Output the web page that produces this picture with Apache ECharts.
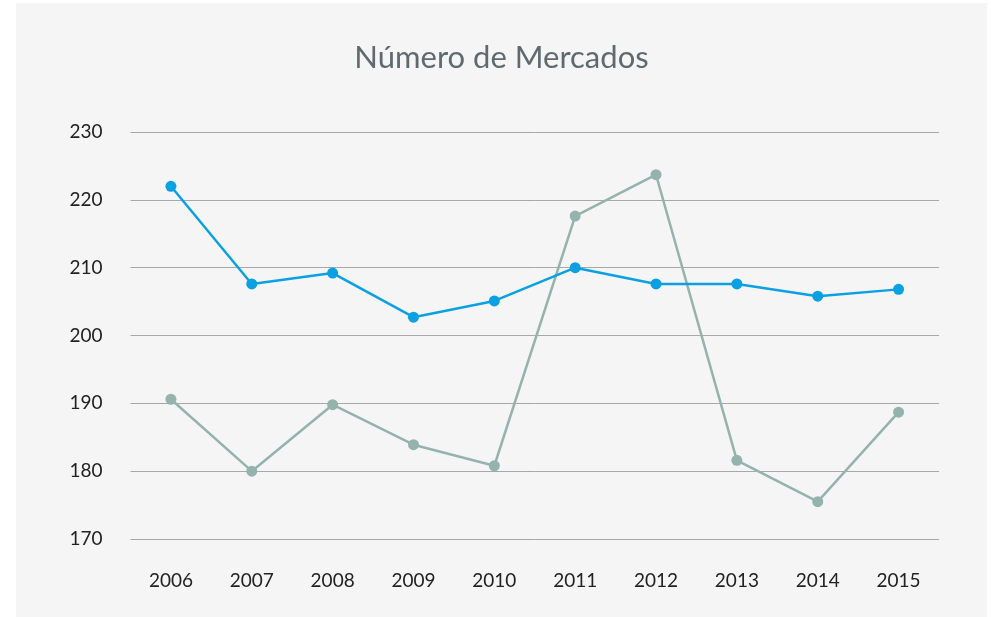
<!DOCTYPE html>
<html><head><meta charset="utf-8">
<script src="https://cdn.jsdelivr.net/npm/echarts@6/dist/echarts.min.js"></script>
<style>html,body{margin:0;padding:0;background:#fff;}#c{position:absolute;left:16px;top:3px;width:971px;height:614px;}</style>
</head><body><div id="c"></div>
<script>
const categories = ['2006','2007','2008','2009','2010','2011','2012','2013','2014','2015'];
const seriesBlue = [222, 207.6, 209.2, 202.7, 205.1, 210, 207.6, 207.6, 205.8, 206.8];
const seriesGray = [190.6, 180, 189.8, 183.9, 180.8, 217.6, 223.7, 181.6, 175.5, 188.7];
const yTicks = [170, 180, 190, 200, 210, 220, 230];
const chart = echarts.init(document.getElementById('c'));
const font = 'Lato, "Open Sans", sans-serif';
chart.setOption({
  backgroundColor: '#f5f5f5',
  animation: false,
  title: {text: 'Número de Mercados', left: 'center', top: 34,
    textStyle: {fontFamily: font, fontSize: 31, fontWeight: 'normal', color: '#5f6a70'}},
  grid: {left: 114.5, right: 48, top: 129, bottom: 78},
  xAxis: {type: 'category', data: categories, boundaryGap: true,
    axisLine: {show: false}, axisTick: {show: false},
    axisLabel: {margin: 32, fontFamily: font, fontSize: 19, color: '#222'}},
  yAxis: {type: 'value', min: yTicks[0], max: yTicks[yTicks.length - 1], interval: 10,
    axisLine: {show: false}, axisTick: {show: false},
    axisLabel: {margin: 28, fontFamily: font, fontSize: 19, color: '#222'},
    splitLine: {lineStyle: {color: '#a8a8a8', width: 1}}},
  series: [
    {type: 'line', data: seriesGray, symbol: 'circle', symbolSize: 11,
      itemStyle: {color: '#95b3ad'}, lineStyle: {color: '#95b3ad', width: 2.5}},
    {type: 'line', data: seriesBlue, symbol: 'circle', symbolSize: 11,
      itemStyle: {color: '#0aa0e2'}, lineStyle: {color: '#0aa0e2', width: 2.5}}
  ]
});
</script></body></html>
